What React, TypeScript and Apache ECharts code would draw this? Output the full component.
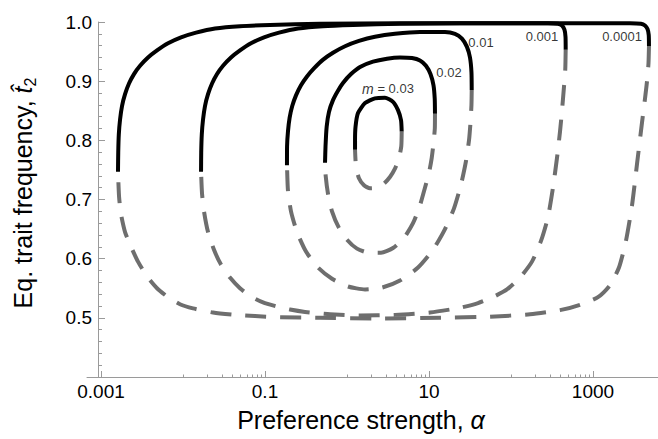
import React, { useEffect, useRef } from 'react';
import * as echarts from 'echarts';

const FONT = '"Liberation Sans", Arial, Helvetica, sans-serif';

// x axis: preference strength alpha (log scale). Tick values.
const majorTickAlpha = [0.001, 0.1, 10, 1000];
const majorTickLabels = ['0.001', '0.1', '10', '1000'];
const minorTickMantissas = [1, 2, 3, 4, 5, 6, 7, 8, 9];
const minorTickDecades = [0.01, 1, 100];
const yTickValues = [0.4, 0.5, 0.6, 0.7, 0.8, 0.9, 1.0];

// migration rates m for each loop, and label anchors [log10(alpha), t2]
const mValues = ['0.03', '0.02', '0.01', '0.001', '0.0001'];
const labelLogAlpha = [0.5, 1.244, 1.634, 2.378, 3.354];
const labelT = [0.887, 0.914, 0.965, 0.975, 0.975];

// Each curve: points [log10(alpha), t2]. "upper" = solid branch, "lower" = dashed branch.
const upper_m0_0001 = [[-2.793, .747], [-2.790, .78], [-2.783, .81], [-2.768, .835], [-2.744, .858], [-2.707, .878], [-2.659, .896], [-2.598, .912], [-2.524, .926], [-2.427, .94], [-2.317, .952], [-2.183, .964], [-2.024, .974], [-1.841, .982], [-1.610, .989], [-1.305, .993], [-0.939, .995], [-0.329, .997], [0.646, .998], [1.866, .998], [3.085, .998], [3.451, .998], [3.585, .997], [3.634, .994], [3.665, .988], [3.680, .978], [3.683, .959]];
const lower_m0_0001 = [[3.683, .959], [3.677, .93], [3.659, .90], [3.634, .87], [3.598, .83], [3.537, .76], [3.476, .69], [3.402, .63], [3.317, .585], [3.207, .555], [3.061, .535], [2.841, .522], [2.598, .513], [2.232, .506], [1.744, .502], [1.134, .500], [0.402, .499], [-0.329, .500], [-0.817, .501], [-1.122, .503], [-1.366, .505], [-1.634, .509], [-1.878, .516], [-2.037, .523], [-2.183, .535], [-2.317, .550], [-2.439, .570], [-2.549, .595], [-2.634, .620], [-2.707, .645], [-2.756, .675], [-2.780, .705], [-2.793, .747]];

const upper_m0_001 = [[-1.780, .747], [-1.778, .78], [-1.771, .81], [-1.756, .835], [-1.732, .858], [-1.695, .878], [-1.646, .896], [-1.585, .912], [-1.512, .926], [-1.415, .94], [-1.305, .952], [-1.171, .964], [-1.012, .974], [-0.829, .982], [-0.598, .989], [-0.293, .993], [0.073, .995], [0.646, .997], [1.378, .998], [2.451, .998], [2.573, .997], [2.622, .994], [2.652, .987], [2.665, .975], [2.667, .953]];
const lower_m0_001 = [[2.667, .953], [2.662, .92], [2.646, .89], [2.622, .85], [2.598, .815], [2.561, .77], [2.512, .72], [2.451, .67], [2.366, .63], [2.256, .595], [2.110, .568], [1.951, .548], [1.780, .535], [1.598, .525], [1.378, .517], [1.012, .509], [0.585, .505], [0.159, .504], [-0.207, .506], [-0.512, .510], [-0.695, .514], [-0.854, .519], [-1.024, .526], [-1.183, .537], [-1.305, .550], [-1.427, .568], [-1.537, .590], [-1.622, .615], [-1.695, .645], [-1.744, .68], [-1.768, .71], [-1.780, .747]];

const upper_m0_01 = [[-0.732, .758], [-0.731, .79], [-0.720, .815], [-0.700, .838], [-0.668, .858], [-0.622, .876], [-0.561, .893], [-0.488, .908], [-0.400, .922], [-0.295, .936], [-0.171, .948], [-0.024, .959], [0.146, .968], [0.341, .975], [0.585, .980], [0.890, .983], [1.195, .983], [1.317, .98], [1.402, .972], [1.463, .958], [1.500, .94], [1.518, .915], [1.521, .885]];
const lower_m0_01 = [[1.521, .885], [1.518, .86], [1.506, .83], [1.488, .80], [1.451, .765], [1.390, .725], [1.305, .685], [1.195, .65], [1.049, .615], [0.866, .585], [0.646, .563], [0.427, .551], [0.220, .548], [0.012, .553], [-0.183, .566], [-0.354, .585], [-0.500, .612], [-0.610, .645], [-0.683, .68], [-0.720, .715], [-0.732, .758]];

const upper_m0_02 = [[-0.268, .762], [-0.262, .79], [-0.248, .823], [-0.220, .848], [-0.171, .868], [-0.110, .884], [-0.049, .897], [0.049, .912], [0.159, .924], [0.317, .933], [0.488, .938], [0.646, .940], [0.793, .939], [0.890, .935], [0.963, .926], [1.018, .912], [1.055, .893], [1.070, .87], [1.073, .845]];
const lower_m0_02 = [[1.073, .845], [1.071, .82], [1.055, .795], [1.033, .77], [1.000, .745], [0.951, .72], [0.890, .69], [0.805, .66], [0.695, .635], [0.561, .618], [0.415, .61], [0.268, .61], [0.122, .617], [0.000, .632], [-0.098, .652], [-0.183, .68], [-0.232, .71], [-0.260, .74], [-0.268, .762]];

const upper_m0_03 = [[0.098, .784], [0.098, .80], [0.104, .823], [0.134, .846], [0.220, .863], [0.341, .871], [0.463, .872], [0.561, .865], [0.622, .851], [0.659, .834], [0.667, .815]];
const lower_m0_03 = [[0.667, .815], [0.662, .79], [0.634, .77], [0.585, .752], [0.524, .738], [0.451, .727], [0.366, .72], [0.280, .719], [0.207, .724], [0.146, .736], [0.110, .755], [0.098, .784]];

const upperCurves = [upper_m0_0001, upper_m0_001, upper_m0_01, upper_m0_02, upper_m0_03];
const lowerCurves = [lower_m0_0001, lower_m0_001, lower_m0_01, lower_m0_02, lower_m0_03];

const X_MIN = -3.171;
const X_MAX = 3.793;
const AXIS_COLOR = '#9a9a9a';

export default function App() {
  const ref = useRef<HTMLDivElement>(null);
  useEffect(() => {
    if (!ref.current) return;
    const chart = echarts.init(ref.current, null, { renderer: 'svg' });
    const majorLog = majorTickAlpha.map((a) => Math.log10(a));
    const minorLog: number[] = [];
    minorTickDecades.forEach((d) => minorTickMantissas.forEach((k) => minorLog.push(Math.log10(k * d))));

    const series: any[] = [];
    lowerCurves.forEach((c) => {
      series.push({
        type: 'line', data: c, xAxisIndex: 0, yAxisIndex: 0, showSymbol: false, symbol: 'none',
        smooth: 0.2, silent: true, z: 2,
        lineStyle: { color: '#6e6e6e', width: 4, type: [21, 14], cap: 'butt', join: 'round' },
      });
    });
    upperCurves.forEach((c) => {
      series.push({
        type: 'line', data: c, xAxisIndex: 0, yAxisIndex: 0, showSymbol: false, symbol: 'none',
        smooth: 0.2, silent: true, z: 3,
        lineStyle: { color: '#000', width: 4, type: 'solid', cap: 'butt', join: 'round' },
      });
    });
    series.push({
      type: 'scatter', xAxisIndex: 0, yAxisIndex: 0, symbolSize: 0, silent: true, z: 5,
      data: mValues.map((m, i) => ({
        value: [labelLogAlpha[i], labelT[i]],
        label: {
          show: true, position: 'inside',
          formatter: i === 0 ? `{i|m}{n| = ${m}}` : `{n|${m}}`,
          rich: {
            i: { fontFamily: FONT, fontSize: 14, fontStyle: 'italic', color: '#000' },
            n: { fontFamily: FONT, fontSize: 13, color: '#000' },
          },
        },
      })),
    });

    const option: any = {
      animation: false,
      backgroundColor: '#fff',
      grid: { left: 87, right: 0, top: 22, bottom: 62, containLabel: false },
      xAxis: [
        {
          type: 'value', min: X_MIN, max: X_MAX, position: 'bottom',
          axisLine: { show: true, onZero: false, lineStyle: { color: AXIS_COLOR, width: 1 } },
          axisTick: { show: true, inside: true, length: 6, customValues: majorLog, lineStyle: { color: AXIS_COLOR } },
          axisLabel: {
            show: true, customValues: majorLog, margin: 5, fontSize: 19, fontFamily: FONT, color: '#000',
            formatter: (v: number) => {
              const i = majorLog.findIndex((m) => Math.abs(m - v) < 1e-6);
              return i >= 0 ? majorTickLabels[i] : '';
            },
          },
          splitLine: { show: false },
          name: '{n|Preference strength, }{i|α}',
          nameLocation: 'middle', nameGap: 30,
          nameTextStyle: {
            padding: [0, 23, 0, 0],
            rich: {
              n: { fontFamily: FONT, fontSize: 25, color: '#000' },
              i: { fontFamily: FONT, fontSize: 25, fontStyle: 'italic', color: '#000' },
            },
          },
        },
        {
          type: 'value', min: X_MIN, max: X_MAX, position: 'bottom',
          axisLine: { show: false, onZero: false },
          axisTick: { show: true, inside: true, length: 2.5, customValues: minorLog, lineStyle: { color: AXIS_COLOR } },
          axisLabel: { show: false },
          splitLine: { show: false },
        },
      ],
      yAxis: {
        type: 'value', min: 0.4, max: 1.0, offset: -11,
        axisLine: { show: true, onZero: false, lineStyle: { color: AXIS_COLOR, width: 1 } },
        axisTick: { show: true, inside: true, length: 7, customValues: yTickValues, lineStyle: { color: AXIS_COLOR } },
        minorTick: { show: true, splitNumber: 5, length: 4, lineStyle: { color: AXIS_COLOR } },
        axisLabel: {
          show: true, customValues: yTickValues, margin: 6, fontSize: 19, fontFamily: FONT, color: '#000',
          formatter: (v: number) => (v < 0.45 ? '' : v.toFixed(1)),
        },
        interval: 0.1,
        splitLine: { show: false },
        name: '{n|Eq. trait frequency, }{i|t\u0302}{s|2}',
        nameLocation: 'middle', nameGap: 60, nameRotate: 90,
        nameTextStyle: {
          padding: [0, 0, 0, 13],
          rich: {
            n: { fontFamily: FONT, fontSize: 25, color: '#000', lineHeight: 30 },
            i: { fontFamily: FONT, fontSize: 25, fontStyle: 'italic', color: '#000', lineHeight: 30 },
            s: { fontFamily: FONT, fontSize: 16, color: '#000', lineHeight: 16, verticalAlign: 'bottom' },
          },
        },
      },
      series,
    };
    chart.setOption(option);
    return () => chart.dispose();
  }, []);
  return (
    <div
      ref={ref}
      style={{ position: 'fixed', left: 0, top: 0, width: 658, height: 439, background: '#fff' }}
    />
  );
}
